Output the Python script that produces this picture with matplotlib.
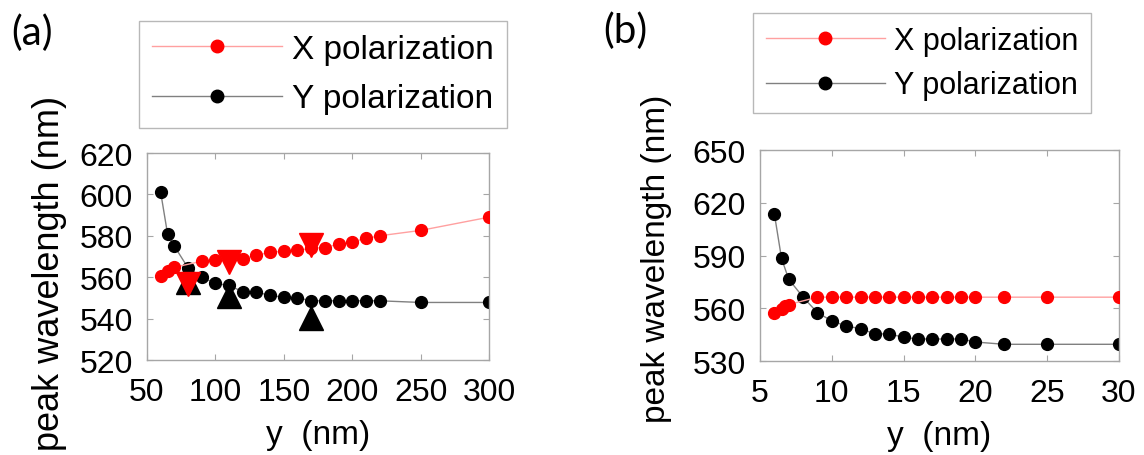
"""Peak wavelength versus gap size y for the two polarizations."""
import matplotlib

matplotlib.use("Agg")
import matplotlib.pyplot as plt
from matplotlib.lines import Line2D

plt.rcParams["font.family"] = ["Liberation Sans", "DejaVu Sans"]

# panel (a): y from 60 to 300 nm
a_x_black = [60, 65, 70, 80, 90, 100, 110, 120, 130, 140, 150, 160,
             170, 180, 190, 200, 210, 220, 250, 300]
a_y_black = [601, 581, 575, 564.5, 560, 557, 556, 553, 552.8, 551.2, 550.3, 550.1,
             548.6, 548.6, 548.6, 548.6, 548.6, 548.6, 547.8, 547.8]
a_x_red = [60, 65, 70, 90, 100, 110, 120, 130, 140, 150, 160,
           170, 180, 190, 200, 210, 220, 250, 300]
a_y_red = [560.6, 562.9, 564.8, 567.7, 568.4, 569.2, 569, 570.5, 572.1, 572.5, 572.9,
           574, 574.3, 576, 577.1, 578.7, 580, 582.6, 589]
# measured peaks (triangles)
a_x_meas = [80, 110, 170]
a_y_meas_red = [556.6, 567.3, 575.5]
a_y_meas_black = [557.5, 551.1, 540.5]

# panel (b): y from 6 to 30 nm
b_x_black = [6, 6.5, 7, 8, 9, 10, 11, 12, 13, 14, 15, 16, 17, 18, 19, 20, 22, 25, 30]
b_y_black = [613.7, 588.3, 576.5, 566.3, 557.5, 552.8, 549.9, 548.4, 545.4, 545.4,
             543.5, 542.5, 542.5, 542.5, 542.5, 540.8, 539.5, 539.5, 539.5]
b_x_red = [6, 6.5, 6.75, 7, 9, 10, 11, 12, 13, 14, 15, 16, 17, 18, 19, 20, 22, 25, 30]
b_y_red = [557.3, 559.8, 561.3, 562.1, 566.3, 566.3, 566.3, 566.3, 566.3, 566.3,
           566.3, 566.3, 566.3, 566.3, 566.3, 566.3, 566.3, 566.3, 566.3]

a_xticks = [50, 100, 150, 200, 250, 300]
a_yticks = [520, 540, 560, 580, 600, 620]
b_xticks = [5, 10, 15, 20, 25, 30]
b_yticks = [530, 560, 590, 620, 650]

RED_LINE = "#ffa0a0"
BLACK_LINE = "#808080"
SPINE = "#a6a6a6"
TICK_FS = 23

fig = plt.figure(figsize=(11.44, 4.56), dpi=100)
ax_a = fig.add_axes([147 / 1144, 1 - 361 / 456, 342 / 1144, 207 / 456])
ax_b = fig.add_axes([760 / 1144, 1 - 362 / 456, 359 / 1144, 211 / 456])


def style_axes(ax, xticks, yticks, ylabel_fs):
    ax.set_xticks(xticks)
    ax.set_yticks(yticks)
    ax.set_xlim(xticks[0], xticks[-1])
    ax.set_ylim(yticks[0], yticks[-1])
    for sp in ax.spines.values():
        sp.set_color(SPINE)
        sp.set_linewidth(1.0)
    ax.tick_params(direction="in", length=4, width=0.8, color=SPINE,
                   top=True, right=True, labelsize=TICK_FS, pad=10)
    ax.tick_params(axis="x", pad=12)
    ax.set_xlabel("y  (nm)", fontsize=24, labelpad=9)
    ax.set_ylabel("peak wavelength (nm)", fontsize=ylabel_fs)


def add_legend(ax, anchor, fs, spacing):
    handles = [
        Line2D([], [], color=RED_LINE, lw=1.0, marker="o", ms=9,
               mfc="red", mec="red", label="X polarization"),
        Line2D([], [], color=BLACK_LINE, lw=1.0, marker="o", ms=9,
               mfc="black", mec="black", label="Y polarization"),
    ]
    leg = ax.legend(handles=handles, loc="center", bbox_to_anchor=anchor,
                    bbox_transform=fig.transFigure, fontsize=fs,
                    frameon=True, fancybox=False, edgecolor=SPINE,
                    handlelength=3.9, handletextpad=0.3, borderpad=0.4,
                    labelspacing=spacing, borderaxespad=0)
    leg.get_frame().set_linewidth(1.0)
    return leg


# panel (a)
ax_a.plot(a_x_black, a_y_black, "-o", color=BLACK_LINE, lw=1.0, ms=8.5,
          mfc="black", mec="black", zorder=2)
ax_a.plot(a_x_red, a_y_red, "-o", color=RED_LINE, lw=1.0, ms=8.5,
          mfc="red", mec="red", zorder=3)
ax_a.plot(a_x_meas, a_y_meas_black, "^", ms=17, color="black", zorder=4)
ax_a.plot(a_x_meas, a_y_meas_red, "v", ms=17, color="red", zorder=5)
style_axes(ax_a, a_xticks, a_yticks, 26)
ax_a.yaxis.set_label_coords(-0.234, 0.425)
add_legend(ax_a, (323 / 1144, 1 - 75 / 456), 24, 0.55)
fig.text(11 / 1144, 1 - 33 / 456, "(a)", fontsize=29, va="center", ha="left",
         family=["Lato", "DejaVu Sans"])

# panel (b)
ax_b.plot(b_x_black, b_y_black, "-o", color=BLACK_LINE, lw=1.0, ms=8.5,
          mfc="black", mec="black", zorder=2)
ax_b.plot(b_x_red, b_y_red, "-o", color=RED_LINE, lw=1.0, ms=8.5,
          mfc="red", mec="red", zorder=3)
style_axes(ax_b, b_xticks, b_yticks, 24)
ax_b.yaxis.set_label_coords(-0.245, 0.49)
add_legend(ax_b, (922 / 1144, 1 - 64 / 456), 22, 0.48)
fig.text(603 / 1144, 1 - 31 / 456, "(b)", fontsize=29, va="center", ha="left",
         family=["Lato", "DejaVu Sans"])

fig.savefig("out.png", dpi=100)
